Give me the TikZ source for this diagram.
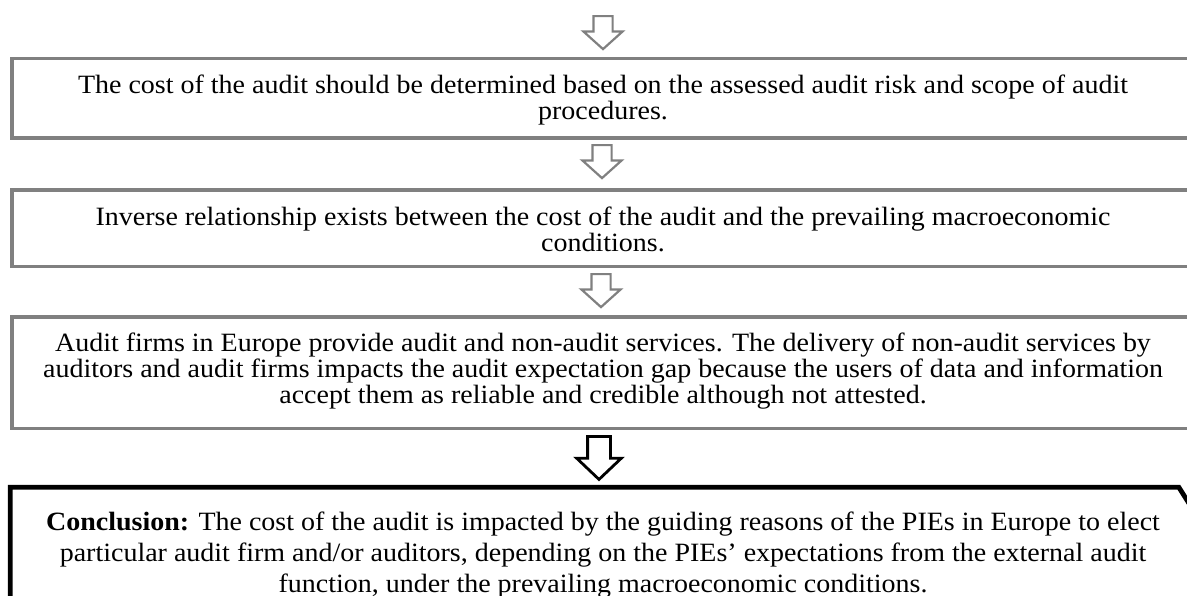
\documentclass[tikz,border=0pt]{standalone}
\usepackage{fontspec}
\setmainfont{Liberation Serif}[FakeStretch=1.06]
\usetikzlibrary{shapes.arrows, calc}
\setlength{\lineskiplimit}{-5pt}

\tikzset{
  stepbox/.style={draw=black!50, line width=1.8pt, minimum width=591pt, align=center,
    inner sep=0pt, font=\fontsize{13.2}{13}\selectfont, text depth=0pt},
  endbox/.style={stepbox, draw=none, font=\fontsize{13.2}{15.5}\selectfont},
  endline/.style={draw=black, line width=2.4pt},
  downarrow/.style={single arrow, draw=black!50, line width=1.1pt, rotate=-90, anchor=tail,
    inner xsep=0pt, inner ysep=4.25pt, minimum height=16.5pt,
    single arrow head extend=5pt, single arrow tip angle=96},
  bigarrow/.style={downarrow, draw=black, line width=1.4pt, minimum height=21.5pt,
    inner ysep=5pt, single arrow head extend=5.5pt, single arrow tip angle=93}
}

\begin{document}
\begin{tikzpicture}[x=0.5pt, y=-0.5pt]
    \useasboundingbox (0,0) rectangle (1187,595);
    \clip (0,0) rectangle (1187,595);

    \node[stepbox, minimum height=39.75pt, text height=21.25pt] (cost) at (603,98.25)
      {The cost of the audit should be determined based on the assessed audit risk and scope of audit\\
       procedures.};
    \node[stepbox, minimum height=38.25pt, text height=22.75pt] (inverse) at (603,228.25)
      {Inverse relationship exists between the cost of the audit and the prevailing macroeconomic\\
       conditions.};
    \node[stepbox, minimum height=55.8pt, text height=31.2pt] (services) at (603,372.5)
      {Audit firms in Europe provide audit and non-audit services. The delivery of non-audit services by\\
       auditors and audit firms impacts the audit expectation gap because the users of data and information\\
       accept them as reliable and credible although not attested.};
    \node[endbox, minimum height=65.5pt, text height=37.5pt] (conclusion) at (603,554.5)
      {\textbf{Conclusion:} The cost of the audit is impacted by the guiding reasons of the PIEs in Europe to elect\\
       particular audit firm and/or auditors, depending on the PIEs' expectations from the external audit\\
       function, under the prevailing macroeconomic conditions.};
    \draw[endline] (conclusion.south west) |- ($(conclusion.north east)+(-17,0)$)
      -- ($(conclusion.north east)+(0,27)$) -- (conclusion.south east);

    \node[downarrow] (in) at (603,15) {};
    \node[downarrow] (cost-inverse) at (602,144) {};
    \node[downarrow] (inverse-services) at (601,273) {};
    \node[bigarrow] (services-conclusion) at (599,435) {};
\end{tikzpicture}
\end{document}
